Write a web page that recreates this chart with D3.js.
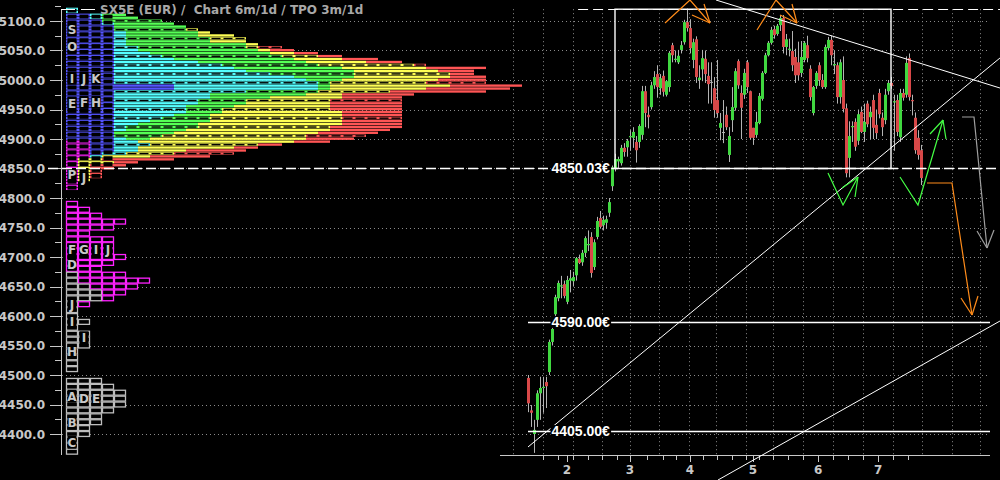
<!DOCTYPE html>
<html><head><meta charset="utf-8">
<script src="https://cdn.jsdelivr.net/npm/d3@7"></script>
<style>html,body{margin:0;background:#000;}svg{display:block}</style>
</head><body><svg id="c" width="1000" height="480"></svg>
<script>
// ---------- DATA ----------
const titleText = "SX5E (EUR) /  Chart 6m/1d / TPO 3m/1d";
const yTicks = [4400,4450,4500,4550,4600,4650,4700,4750,4800,4850,4900,4950,5000,5050,5100];
const monthIdx = [13, 34, 54, 75, 96.7, 116.7];
const monthLabels = ["2","3","4","5","6","7"];
const weekIdx = [5,10,15,20,24.5,29.5,39.5,44.9,49.3,58.2,62.9,67.9,72.7,77,81.7,86.7,91.7,101.7,106.7,111.7,121.7,126.7];
const gridIdx = [-5,5,15,24.5,34,43.5,53.5,62.5,72.5,81.5,91.7,101.7,111.7,121.7,131.3,141.3,150.7];

// daily candles (index = trading day)
const opens = [4495,4440,4400,4424,4469,4478,4488,4505,4556,4603,4630,4650,4654,4624,4660,4659,4669,4697,4691,4707,4720,4734,4683,4734,4766,4754,4758,4775,4820,4850,4862,4859,4885,4886,4903,4902,4895,4895,4907,4981,4941,4954,4991,5010,4986,5007,4975,4988,5059,5034,5030,5051,5064,5098,5088,5034,5069,5000,5018,5036,5007,4995,4986,4966,4919,4910,4941,4873,4932,4953,5032,4978,4975,5030,4981,4919,4907,4927,4968,5012,5042,5063,5086,5078,5093,5105,5056,5051,5049,5039,5030,5012,5034,5059,5019,4944,4990,5025,5000,4988,5054,5068,5025,5025,4971,5000,4952,4868,4920,4929,4897,4946,4912,4960,4937,4966,4924,4978,4936,4932,4981,4995,4962,4966,4903,4978,4975,5037,4966,4936,4902,4881];
const highs = [4500,4449,4424,4474,4497,4497,4497,4560,4582,4636,4660,4668,4660,4668,4678,4675,4700,4704,4712,4735,4745,4742,4730,4768,4778,4770,4770,4800,4855,4875,4870,4890,4893,4900,4915,4920,4905,4925,4990,4990,4955,4997,5015,5025,5010,5016,5000,5049,5063,5050,5051,5066,5102,5121,5103,5070,5074,5025,5051,5050,5030,5030,5005,5034,4944,4966,4955,4920,4988,5020,5035,4991,5019,5034,4982,4919,4946,4978,5015,5046,5066,5090,5092,5095,5110,5110,5078,5070,5083,5053,5065,5066,5066,5075,5025,4990,5015,5030,5010,5060,5073,5075,5050,5030,5035,5040,4960,4930,4930,4935,4950,4955,4960,4965,4955,4975,4950,4985,4945,4985,5000,5005,4975,4975,4985,4985,5040,5045,4975,4945,4915,4890];
const lows = [4437,4412,4368,4412,4424,4436,4444,4500,4550,4598,4625,4630,4630,4620,4640,4650,4660,4688,4685,4700,4710,4665,4678,4730,4748,4745,4748,4768,4812,4845,4850,4855,4870,4870,4880,4885,4860,4885,4900,4920,4918,4950,4985,4970,4975,4972,4972,4980,5030,5030,5027,5045,5060,5082,5045,5020,4995,4985,4998,4995,4960,4960,4936,4936,4898,4893,4915,4861,4912,4948,4985,4900,4968,4978,4900,4890,4902,4925,4965,5010,5040,5060,5070,5075,5083,5045,5042,5040,5015,4995,5000,5005,5030,5030,4965,4940,4985,4990,4985,4985,5050,5025,5010,4960,4960,4945,4835,4835,4895,4880,4890,4910,4895,4920,4900,4900,4900,4935,4905,4925,4975,4985,4880,4905,4895,4965,4970,4965,4940,4875,4865,4822];
const closes = [4452,4436,4407,4469,4478,4480,4481,4556,4578,4632,4656,4652,4634,4661,4664,4666,4698,4690,4707,4732,4722,4673,4725,4761,4751,4763,4764,4793,4852,4866,4866,4885,4878,4897,4905,4912,4881,4922,4981,4944,4937,4991,5005,4988,5003,4980,4998,5046,5042,5036,5041,5059,5098,5088,5054,5064,5005,5004,5037,5010,4993,4996,4949,4944,4927,4911,4920,4905,4954,5015,4991,4953,5012,4988,4902,4902,4929,4973,5012,5042,5063,5085,5076,5092,5105,5056,5069,5053,5025,5008,5008,5039,5063,5037,4971,4988,5012,5000,4988,5056,5068,5042,5027,4971,5030,4951,4842,4905,4922,4887,4942,4912,4929,4925,4946,4919,4910,4942,4920,4975,4995,4990,4964,4912,4978,4970,5029,4971,4964,4881,4873,4834];

// upper TPO profile (3m), price rows of 5 points; cumulative TPO counts per colour band
const upperLevels = d3.range(5120, 4814, -5);
const upMagenta = [0,0,0,0,0,0,0,0,0,0,0,0,0,0,0,0,0,0,0,0,0,0,0,0,0,0,0,0,0,0,0,0,0,0,0,0,0,0,0,0,0,0,0,0,0,2,2,2,2,2,2,1,1,1,1,1,1,1,1,1,1,1];
const upBlue    = [0,0,2,2,3,3,4,4,4,4,4,4,4,4,4,4,4,4,4,4,4,4,4,4,4,4,9,9,4,4,4,4,4,4,4,4,4,4,4,4,4,4,4,4,4,4,4,4,4,3,2,1,1,1,1,1,1,1,1,1,1,1];
const upCyan    = [1,1,3,3,3,4,4,4,5,5,5,5,5,6,6,7,8,9,11,13,14,15,17,19,20,21,21,21,15,12,12,11,11,10,10,10,9,8,7,6,5,5,4,4,5,6,7,6,6,5,3,1,1,1,1,1,1,1,1,1,1,1];
const upGreen   = [1,1,5,6,8,9,10,10,11,11,12,12,15,15,16,17,18,19,20,21,23,24,24,24,23,22,22,22,21,20,17,15,15,14,13,13,12,12,12,11,11,10,9,8,7,6,7,6,6,5,3,1,1,1,1,1,1,1,1,1,1,1];
const upYellow  = [1,1,5,6,8,9,10,11,12,14,15,15,16,16,17,19,21,23,25,29,30,31,32,32,31,30,32,30,27,23,23,22,22,22,22,23,23,23,23,23,22,22,21,20,20,19,16,14,10,9,7,3,4,2,2,2,2,2,2,1,1,1];
const upRed     = [1,1,5,6,8,9,10,11,12,14,15,15,16,18,19,21,23,26,28,30,35,34,34,35,35,35,38,37,35,29,28,28,28,28,28,28,28,28,28,28,28,27,26,25,24,22,18,16,15,14,12,9,6,5,4,3,3,3,2,1,1,1];

// lower TPO profiles, price rows of 10 points
const lowerLevels = [4790,4780,4770,4760,4750,4740,4730,4720,4710,4700,4690,4680,4670,4660,4650,4640,4630,4620,4610,4600,4590,4580,4570,4560,4550,4540,4530,4520,4510,4490,4480,4470,4460,4450,4440,4430,4420,4410,4400,4390,4380,4370];
const lowGray    = [0,0,0,0,0,0,0,0,0,0,0,0,1,1,2,3,3,1,1,1,2,1,2,2,2,1,1,1,1,3,4,5,5,5,4,3,3,2,2,1,1,1];
const lowMagenta = [1,2,3,5,4,2,4,4,4,5,4,3,4,6,4,2,1,1,0,0,0,0,0,0,0,0,0,0,0,0,0,0,0,0,0,0,0,0,0,0,0,0];

// TPO period letters: [letter, column, price]
const tpoLetters = [["S",0,5085],["O",0,5056],["I",0,5003],["J",1,5003],["K",2,5003],["E",0,4961],["F",1,4962],["H",2,4962],["P",0,4839],["J",1,4834],
  ["F",0,4712],["G",1,4712],["I",2,4712],["J",3,4712],["D",0,4688],["J",0,4619],["I",0,4590],["I",1,4563],["H",0,4539],["A",0,4464],["D",1,4461],["E",2,4461],["B",0,4419],["C",0,4386]];

// levels and drawings (index, price)
const boxLevels = {i0:29, i1:121, top:5120, bottom:4850.03};
const hLevels = [4590, 4405];
const levelLabels = ["4850.03€","4590.00€","4405.00€"];
const levelValues = [4850.03, 4590, 4405];
const trendLines = [[[62.67,5135.6],[157.33,4986.4]], [[0,4378],[157.33,5037.3]], [[63.33,4322],[157.33,4591.5]]];
const arrows = [
  {c:"#ff8c1a", pts:[[45.67,5096.6],[54,5135.6],[60.67,5096.6]], barbs:[[54.67,5110.2],[58.67,5128.8]]},
  {c:"#ff8c1a", pts:[[76.33,5084.7],[82.67,5135.6],[89.67,5096.6]], barbs:[[84,5110.2],[88,5128.8]]},
  {c:"#ff8c1a", pts:[[133,4825.4],[141.33,4825.4],[148,4601.7]], barbs:[[144.33,4630.5],[150,4633.9]]},
  {c:"#a0a0a0", pts:[[144.67,4937.3],[148.67,4937.3],[153,4715.3]], barbs:[[149.67,4744],[155.33,4745.8]]},
  {c:"#44ff44", pts:[[100,4842.4],[105,4788.1],[110,4835.6]], barbs:[[104.67,4817],[109,4801.7]]},
  {c:"#44ff44", pts:[[124,4835.6],[130,4788.1],[138.33,4932.2]], barbs:[[134,4908.5],[139.33,4900]]}
];

// ---------- CHART ----------
const svg = d3.select("#c");
svg.append("rect").attr("width",1000).attr("height",480).attr("fill","#000");
const y = d3.scaleLinear().domain([4400,5100]).range([434,21]);
const x = d3.scaleLinear().domain([0,131]).range([528,921]);
const px = d3.scaleLinear().domain([0,38]).range([66,522]);
const FONT = "DejaVu Sans, sans-serif";
const axisCol = "#c8c8c8";

// grid
const grid = svg.append("g");
yTicks.forEach(v => grid.append("line").attr("x1",62).attr("x2",990)
  .attr("y1",Math.round(y(v))+0.5).attr("y2",Math.round(y(v))+0.5)
  .attr("stroke","#8a8a8a").attr("stroke-dasharray","1,3"));
gridIdx.forEach(i => grid.append("line").attr("x1",Math.round(x(i))+0.5).attr("x2",Math.round(x(i))+0.5)
  .attr("y1",y(5120)).attr("y2",455).attr("stroke","#8a8a8a").attr("stroke-dasharray","1,3"));

// upper profile
const colors = ["#ff22ff","#5555ff","#55ffff","#55ff55","#ffff55","#ff5555"];
const bands = [upMagenta, upBlue, upCyan, upGreen, upYellow, upRed];
const rowH = y(0) - y(5);
const prof = svg.append("g");
function colorAt(r, c){
  if (r >= upperLevels.length) return -1;
  for (let k=0;k<bands.length;k++){ if (c < bands[k][r]) return k; }
  return -1;
}
upperLevels.forEach((p, r) => {
  let start = 0;
  bands.forEach((b, k) => {
    const end = b[r];
    if (end > start) {
      prof.append("rect").attr("x",px(start)).attr("y",y(p+2.5))
        .attr("width",px(end)-px(start)).attr("height",rowH-0.6).attr("fill",colors[k]);
      start = end;
    }
  });
});
// letter-column boxes (outlined cells)
for (let r=0; r<upperLevels.length-1; r+=2){
  const p = upperLevels[r];
  for (let c=0;c<4;c++){
    const a = colorAt(r,c), b = colorAt(r+1,c);
    if (a<0 || b<0) continue;
    prof.append("rect").attr("x",px(c)+1.5).attr("y",y(p+2.5)+1)
      .attr("width",px(c+1)-px(c)-3).attr("height",2*rowH-2).attr("fill","#000");
  }
}
// period separators (short black dashes)
upperLevels.forEach((p, r) => {
  if (r % 3 !== 1) return;
  for (let c=4;c<38;c++){
    const a = colorAt(r,c);
    if (a < 0) continue;
    if (a === 5 && r % 2 === 0) continue;
    prof.append("rect").attr("x",px(c)+1.5).attr("y",y(p+2.5)+0.6)
      .attr("width",px(c+1)-px(c)-3).attr("height",1.4).attr("fill","#000");
  }
});
// lower profiles (outlined boxes)
lowerLevels.forEach((p, r) => {
  const g = lowGray[r], m = lowMagenta[r];
  for (let c=0;c<g+m;c++){
    prof.append("rect").attr("x",px(c)+0.5).attr("y",y(p+5)+0.5)
      .attr("width",px(c+1)-px(c)-1).attr("height",y(p-5)-y(p+5)-1)
      .attr("fill","#000").attr("stroke", c<g ? "#bdbdbd" : "#ff22ff").attr("stroke-width",1.3);
  }
});
tpoLetters.forEach(([t,c,p]) => {
  prof.append("rect").attr("x",px(c)+1.5).attr("y",y(p)-6.5).attr("width",px(c+1)-px(c)-3).attr("height",13).attr("fill","#000");
  prof.append("text").attr("x",px(c+0.5)).attr("y",y(p)+4.5).attr("text-anchor","middle")
    .attr("font-family",FONT).attr("font-weight","bold").attr("font-size",12).attr("fill",axisCol).text(t);
});

// y axis
const ax = svg.append("g");
ax.append("line").attr("x1",61.5).attr("x2",61.5).attr("y1",y(5120)).attr("y2",455).attr("stroke",axisCol);
yTicks.forEach(v => {
  ax.append("line").attr("x1",50).attr("x2",61).attr("y1",Math.round(y(v))+0.5).attr("y2",Math.round(y(v))+0.5).attr("stroke",axisCol);
  ax.append("line").attr("x1",55).attr("x2",61).attr("y1",Math.round(y(v+25))+0.5).attr("y2",Math.round(y(v+25))+0.5).attr("stroke",axisCol);
  ax.append("text").attr("x",45).attr("y",y(v)+4.5).attr("text-anchor","end")
    .attr("font-family",FONT).attr("font-weight","bold").attr("font-size",12).attr("fill",axisCol).text(v.toFixed(1));
});

// x axis
ax.append("line").attr("x1",500).attr("x2",990).attr("y1",455.5).attr("y2",455.5).attr("stroke",axisCol);
weekIdx.forEach(i => ax.append("line").attr("x1",Math.round(x(i))+0.5).attr("x2",Math.round(x(i))+0.5).attr("y1",455).attr("y2",460).attr("stroke",axisCol));
monthIdx.forEach((i,k) => {
  ax.append("line").attr("x1",Math.round(x(i))+0.5).attr("x2",Math.round(x(i))+0.5).attr("y1",455).attr("y2",462).attr("stroke",axisCol);
  ax.append("text").attr("x",x(i)).attr("y",474).attr("text-anchor","middle")
    .attr("font-family",FONT).attr("font-weight","bold").attr("font-size",12).attr("fill",axisCol).text(monthLabels[k]);
});

// dashed extreme line and title
svg.append("line").attr("x1",61).attr("x2",px(2.5)).attr("y1",Math.round(y(5120))+0.5).attr("y2",Math.round(y(5120))+0.5)
  .attr("stroke","#fff").attr("stroke-dasharray","14,6");
svg.append("line").attr("x1",x(16.7)).attr("x2",1000).attr("y1",Math.round(y(5120))+0.5).attr("y2",Math.round(y(5120))+0.5)
  .attr("stroke","#fff").attr("stroke-dasharray","10,5");
svg.append("text").attr("x",100).attr("y",14).attr("font-family",FONT).attr("font-weight","bold")
  .attr("font-size",12).attr("fill","#a8a8a8").style("white-space","pre").attr("xml:space","preserve").text(titleText);

// candles
const cg = svg.append("g");
opens.forEach((o,i) => {
  const c = closes[i];
  const cx = Math.round(x(i));
  const hi = Math.max(highs[i],o,c), lo = Math.min(lows[i],o,c);
  cg.append("line").attr("x1",cx+0.5).attr("x2",cx+0.5).attr("y1",y(hi)).attr("y2",y(lo)).attr("stroke","#b4b4b4");
  const doji = Math.abs(o-c) < 2;
  const top = y(Math.max(o,c)), bot = y(Math.min(o,c));
  cg.append("rect").attr("x",cx-1).attr("width",3)
    .attr("y",doji ? top-0.5 : top).attr("height",Math.max(1,bot-top))
    .attr("fill", doji ? "#b4b4b4" : (c>o ? "#40d840" : "#d84848"));
});

// box, levels, trendlines
const ov = svg.append("g");
ov.append("line").attr("x1",48).attr("x2",1000).attr("y1",Math.round(y(levelValues[0]))+0.5).attr("y2",Math.round(y(levelValues[0]))+0.5)
  .attr("stroke","#fff").attr("stroke-width",1.3).attr("stroke-dasharray","10,4");
ov.append("rect").attr("x",x(boxLevels.i0)).attr("y",y(boxLevels.top)).attr("width",x(boxLevels.i1)-x(boxLevels.i0))
  .attr("height",y(boxLevels.bottom)-y(boxLevels.top)).attr("fill","none").attr("stroke","#fff").attr("stroke-width",1.4);
hLevels.forEach(v => ov.append("line").attr("x1",x(0)).attr("x2",990).attr("y1",Math.round(y(v))+0.5).attr("y2",Math.round(y(v))+0.5)
  .attr("stroke","#fff").attr("stroke-width",1.4));
const line = d3.line().x(d=>x(d[0])).y(d=>y(d[1]));
trendLines.forEach(t => ov.append("path").attr("d",line(t)).attr("fill","none").attr("stroke","#fff").attr("stroke-width",1));
arrows.forEach(a => {
  ov.append("path").attr("d",line(a.pts)).attr("fill","none").attr("stroke",a.c).attr("stroke-width",1.2);
  const tip = a.pts[a.pts.length-1];
  a.barbs.forEach(b => ov.append("path").attr("d",line([b,tip])).attr("fill","none").attr("stroke",a.c).attr("stroke-width",1.2));
});

// level labels
levelValues.forEach((v,k) => {
  const t = ov.append("text").attr("x",x(27.3)).attr("y",y(v)+5).attr("text-anchor","end")
    .attr("font-family","Liberation Sans, Arial, sans-serif").attr("font-weight","bold").attr("font-size",14)
    .attr("fill","#fff").text(levelLabels[k]);
  const bb = t.node().getBBox();
  ov.insert("rect", () => t.node()).attr("x",bb.x-1).attr("y",y(v)-6).attr("width",bb.width+2).attr("height",12).attr("fill","#000");
});
</script></body></html>
